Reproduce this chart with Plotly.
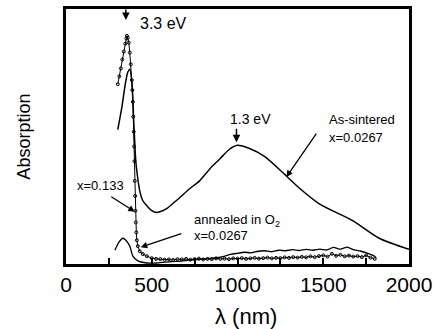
import plotly.graph_objects as go

# As-sintered x=0.0267
sint_nm = [302, 326, 343, 360, 372, 384, 395, 407, 413, 430, 448, 471, 500, 529, 564, 587,
           628, 663, 721, 779, 837, 895, 953, 994, 1070, 1157, 1285, 1360, 1477, 1669, 1826, 2000]
sint_y = [0.527, 0.616, 0.694, 0.752, 0.764, 0.713, 0.558, 0.403, 0.364, 0.287, 0.248, 0.229,
          0.209, 0.202, 0.209, 0.217, 0.240, 0.260, 0.295, 0.326, 0.372, 0.411, 0.450, 0.465,
          0.453, 0.422, 0.345, 0.298, 0.236, 0.171, 0.101, 0.058]

# x=0.133
x133_nm = [302, 311, 320, 328, 337, 346, 352, 355, 360, 366, 372, 378, 384, 387, 390, 392, 395,
           397, 399, 401, 403, 405, 407, 410, 413, 419, 430, 448, 471, 500, 525,
           550, 575, 600, 625, 650, 675, 700, 725, 750, 775, 800, 825, 850, 875, 900, 925,
           950, 975, 1000, 1025, 1050, 1075, 1100, 1125, 1150, 1175, 1200, 1225, 1250, 1275,
           1300, 1325, 1350, 1375, 1400, 1425, 1450, 1475, 1500, 1525, 1550, 1575, 1600, 1625,
           1650, 1675, 1700, 1725, 1750, 1775, 1800]
x133_y = [0.705, 0.736, 0.767, 0.802, 0.833, 0.864, 0.884, 0.895, 0.888, 0.868, 0.829, 0.783,
          0.721, 0.682, 0.636, 0.578, 0.519, 0.461, 0.403, 0.326, 0.267, 0.209, 0.163, 0.124,
          0.093, 0.070, 0.050, 0.039, 0.031, 0.023, 0.020,
          0.019, 0.017, 0.018, 0.016, 0.019, 0.018, 0.020, 0.017, 0.019, 0.021, 0.018, 0.020,
          0.019, 0.022, 0.020, 0.021, 0.019, 0.022, 0.021, 0.023, 0.020, 0.022, 0.024, 0.021,
          0.023, 0.025, 0.022, 0.024, 0.023, 0.026, 0.024, 0.027, 0.025, 0.028, 0.026, 0.030,
          0.027, 0.031, 0.034, 0.029, 0.040, 0.032, 0.036, 0.030, 0.033, 0.029, 0.031, 0.027,
          0.034, 0.025, 0.020]

# annealed in O2 x=0.0267
ann_nm = [285, 308, 331, 349, 372, 390, 419, 471, 529, 560, 600, 640, 680, 720, 760, 800, 840,
          880, 920, 960, 1000, 1040, 1080, 1120, 1160, 1200, 1240, 1280, 1320, 1360, 1400, 1440,
          1480, 1520, 1560, 1600, 1640, 1680, 1720, 1760, 1800, 1808]
ann_y = [0.054, 0.085, 0.101, 0.093, 0.070, 0.031, 0.012, 0.004, 0.004, 0.006, 0.008, 0.010,
         0.012, 0.015, 0.017, 0.020, 0.022, 0.025, 0.030, 0.038, 0.042, 0.046, 0.044, 0.050,
         0.052, 0.048, 0.054, 0.052, 0.056, 0.053, 0.057, 0.054, 0.058, 0.055, 0.065, 0.058,
         0.066, 0.055, 0.050, 0.042, 0.030, 0.022]

tick_vals = [0, 500, 1000, 1500, 2000]
tick_text = ["0", "500", "1000", "1500", "2000"]

FONT = "Liberation Sans, Arial, sans-serif"

fig = go.Figure()
fig.add_trace(go.Scatter(x=sint_nm, y=sint_y, mode="lines",
                         line=dict(color="black", width=1.5, shape="spline", smoothing=0.8),
                         showlegend=False))
fig.add_trace(go.Scatter(x=x133_nm, y=x133_y, mode="lines+markers",
                         line=dict(color="black", width=1),
                         marker=dict(symbol="circle-open", size=3, color="black", line=dict(width=1)),
                         showlegend=False))
fig.add_trace(go.Scatter(x=ann_nm, y=ann_y, mode="lines",
                         line=dict(color="black", width=1.3, shape="spline", smoothing=0.6),
                         showlegend=False))

ann_font = dict(family=FONT, size=13, color="black")
arrow = dict(showarrow=True, arrowhead=2, arrowsize=1, arrowcolor="black", text="",
             xref="x", yref="y")
annotations = [
    dict(arrow, x=349, y=0.957, ax=0, ay=-12, arrowwidth=1.5),
    dict(x=419, y=0.942, xref="x", yref="y", text="3.3 eV", showarrow=False, xanchor="left",
         yanchor="middle", font=dict(family=FONT, size=16, color="black")),
    dict(arrow, x=994, y=0.477, ax=0, ay=-15, arrowwidth=1.5),
    dict(x=942, y=0.570, xref="x", yref="y", text="1.3 eV", showarrow=False, xanchor="left",
         yanchor="middle", font=dict(family=FONT, size=14, color="black")),
    dict(x=1523, y=0.566, xref="x", yref="y", text="As-sintered", showarrow=False,
         xanchor="left", yanchor="middle", font=ann_font),
    dict(x=1523, y=0.496, xref="x", yref="y", text="x=0.0267", showarrow=False,
         xanchor="left", yanchor="middle", font=ann_font),
    dict(arrow, x=1285, y=0.341, ax=31, ay=-45, arrowwidth=1.3),
    dict(x=52, y=0.306, xref="x", yref="y", text="x=0.133", showarrow=False, xanchor="left",
         yanchor="middle", font=ann_font),
    dict(arrow, x=401, y=0.205, ax=-25, ay=-16, arrowwidth=1.3),
    dict(x=733, y=0.171, xref="x", yref="y", text="annealed in O<sub>2</sub>", showarrow=False,
         xanchor="left", yanchor="middle", font=ann_font),
    dict(x=733, y=0.112, xref="x", yref="y", text="x=0.0267", showarrow=False, xanchor="left",
         yanchor="middle", font=ann_font),
    dict(arrow, x=436, y=0.066, ax=42, ay=-14, arrowwidth=1.3),
    dict(x=-0.125, y=0.5, xref="paper", yref="paper", text="Absorption", textangle=-90,
         xanchor="center", yanchor="middle", showarrow=False,
         font=dict(family=FONT, size=18, color="black")),
    dict(x=0.526, y=-0.205, xref="paper", yref="paper", text="λ (nm)", showarrow=False,
         xanchor="center", yanchor="middle", font=dict(family=FONT, size=22, color="black")),
]

fig.update_layout(
    width=438, height=329,
    margin=dict(l=66, r=28, t=6, b=65),
    paper_bgcolor="white", plot_bgcolor="white",
    annotations=annotations,
    font=dict(family=FONT, color="black"),
)
fig.update_xaxes(range=[0, 2000], tickvals=tick_vals, ticktext=tick_text, ticks="inside",
                 ticklen=6, tickwidth=1.5, tickcolor="black",
                 minor=dict(dtick=250, ticks="inside", ticklen=6, tickwidth=1.5, tickcolor="black"),
                 showline=True, linecolor="black", linewidth=2.5, mirror=True,
                 showgrid=False, zeroline=False, tickfont=dict(family=FONT, size=21, color="black"))
fig.update_yaxes(range=[0, 1], showticklabels=False, ticks="", showline=True, linecolor="black",
                 linewidth=2.5, mirror=True, showgrid=False, zeroline=False)

fig.write_html("out.html")
